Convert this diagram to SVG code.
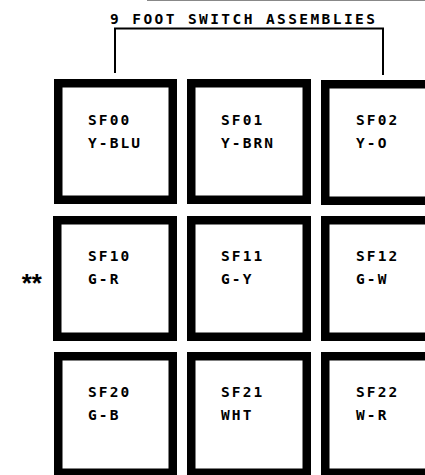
<svg xmlns="http://www.w3.org/2000/svg" width="425" height="475" viewBox="0 0 425 475">
<style>
.bg{fill:#fff}
.box{fill:#fff;stroke:#000;stroke-width:8.5}
.t{font-family:"DejaVu Sans Mono","Liberation Mono",monospace;font-weight:bold;font-size:14.5px;letter-spacing:2.1px;fill:#000}
.ln{fill:none;stroke:#000;stroke-width:2}
</style>
<rect class="bg" x="0" y="0" width="425" height="475"/>
<line x1="147" y1="0.5" x2="425" y2="0.5" stroke="#888" stroke-width="1"/>
<text class="t" x="110" y="23.5" textLength="267" lengthAdjust="spacing">9 FOOT SWITCH ASSEMBLIES</text>
<g id="connectors">
<polyline class="ln" points="115,73 115,28.5 383,28.5 383,75"/>
</g>
<g id="SF00"><rect class="box" x="58.25" y="83.25" width="114.5" height="116.5"/><text class="t" x="88" y="124.5">SF00</text><text class="t" x="88" y="147.5">Y-BLU</text></g>
<g id="SF01"><rect class="box" x="191.25" y="83.25" width="115.5" height="116.5"/><text class="t" x="221" y="124.5">SF01</text><text class="t" x="221" y="147.5">Y-BRN</text></g>
<g id="SF02"><rect class="box" x="325.25" y="84.25" width="115.5" height="116.5"/><text class="t" x="356" y="124.5">SF02</text><text class="t" x="356" y="147.5">Y-O</text></g>
<g id="SF10"><rect class="box" x="57.25" y="220.25" width="115.5" height="116.5"/><text class="t" x="88" y="261">SF10</text><text class="t" x="88" y="284">G-R</text></g>
<g id="SF11"><rect class="box" x="191.25" y="220.25" width="115.5" height="116.5"/><text class="t" x="221" y="261">SF11</text><text class="t" x="221" y="284">G-Y</text></g>
<g id="SF12"><rect class="box" x="325.25" y="220.25" width="115.5" height="116.5"/><text class="t" x="356" y="261">SF12</text><text class="t" x="356" y="284">G-W</text></g>
<g id="SF20"><rect class="box" x="58.25" y="356.25" width="114.5" height="116.5"/><text class="t" x="88" y="397">SF20</text><text class="t" x="88" y="420">G-B</text></g>
<g id="SF21"><rect class="box" x="191.25" y="356.25" width="115.5" height="116.5"/><text class="t" x="221" y="397">SF21</text><text class="t" x="221" y="420">WHT</text></g>
<g id="SF22"><rect class="box" x="325.25" y="356.25" width="115.5" height="116.5"/><text class="t" x="356" y="397">SF22</text><text class="t" x="356" y="420">W-R</text></g>
<g id="note"><text x="19" y="293" style="font-family:'Liberation Mono',monospace;font-weight:bold;font-size:26px;letter-spacing:-5.5px">**</text></g>
</svg>
